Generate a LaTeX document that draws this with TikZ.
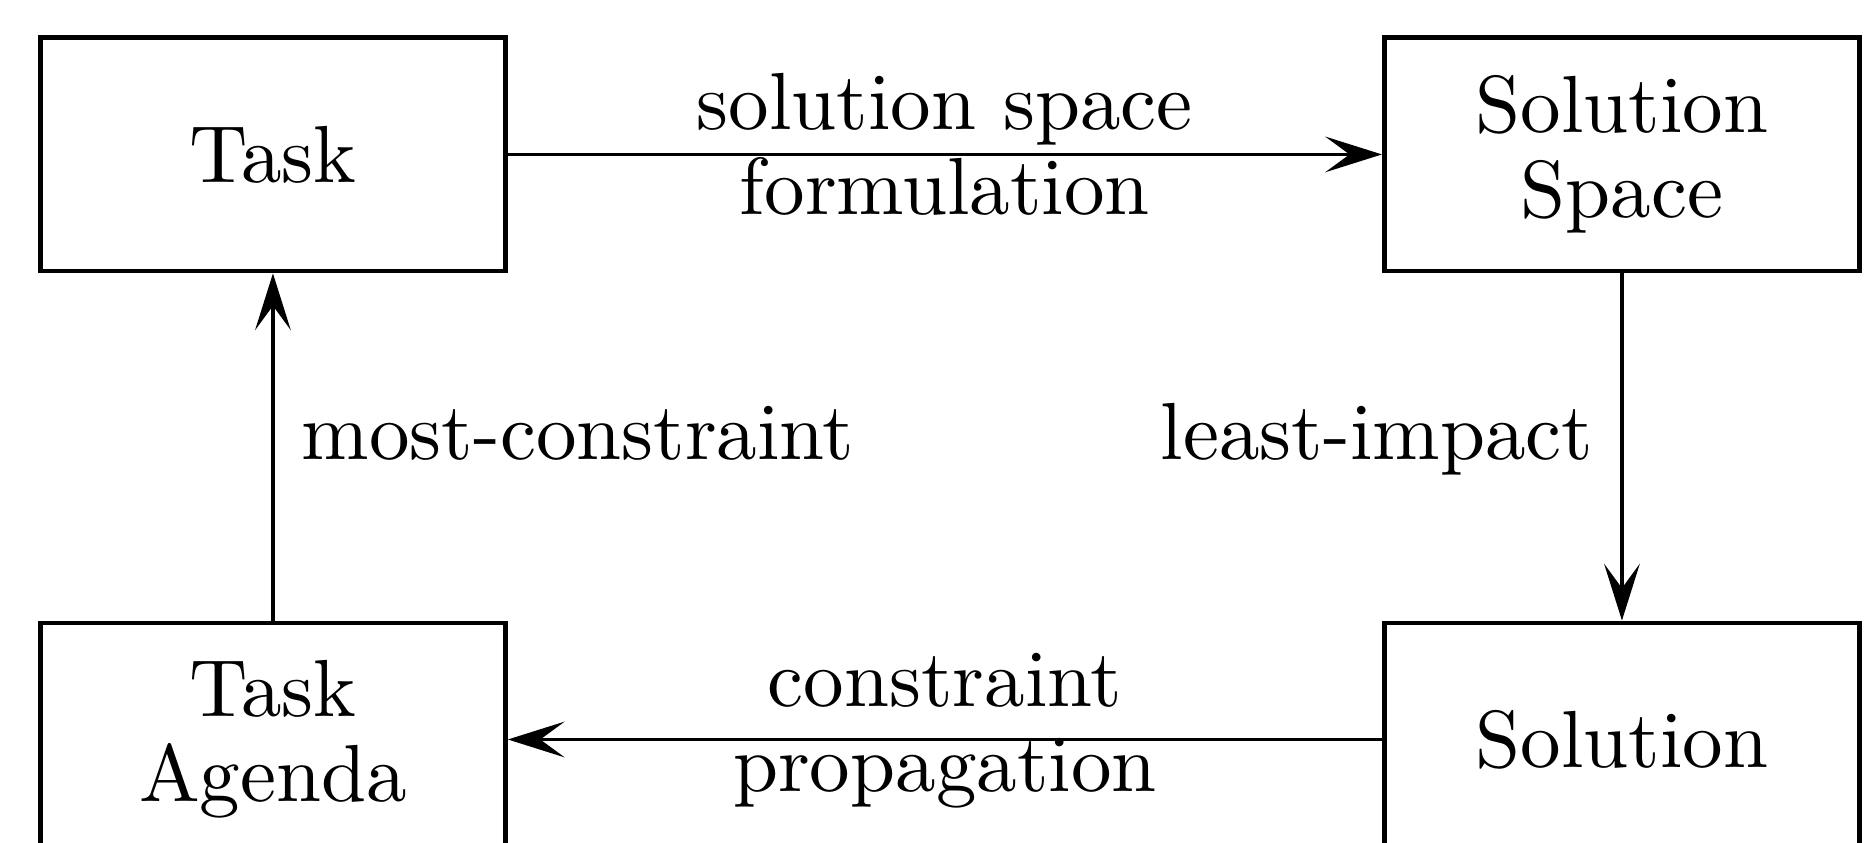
\documentclass[tikz,border=0pt]{standalone}
\usepackage{tikz}
\usetikzlibrary{arrows.meta}

\begin{document}
\begin{tikzpicture}[
  every node/.style={font=\fontsize{10pt}{10.5pt}\selectfont},
  box/.style={draw, line width=0.6pt, minimum height=1.011cm, align=center},
  lbl/.style={align=center},
  flow/.style={line width=0.45pt, -{Stealth[length=7pt,width=4.4pt,inset=3pt]}}
]
\useasboundingbox (0,0) rectangle (8.099,-3.657);
\clip (0,0) rectangle (8.099,-3.657);
%% --- boxes ---
\node[box, minimum width=2.017cm] (task) at (1.184,-0.670) {Task};
\node[box, minimum width=2.061cm] (space) at (7.036,-0.670) {Solution\\Space};
\node[box, minimum width=2.061cm] (sol) at (7.036,-3.208) {Solution};
\node[box, minimum width=2.017cm] (agenda) at (1.184,-3.208) {Task\\Agenda};
%% --- cycle of arrows ---
\draw[flow] (task) -- node[lbl, yshift=1.3pt] {solution space\\formulation} (space);
\draw[flow] (space) -- node[anchor=base east, yshift=-1.5pt] {least-impact} (sol);
\draw[flow] (sol) -- node[lbl, yshift=1.05pt] {constraint\\propagation} (agenda);
\draw[flow] (agenda) -- node[anchor=base west, yshift=-1.5pt] {most-constraint} (task);
\end{tikzpicture}
\end{document}
